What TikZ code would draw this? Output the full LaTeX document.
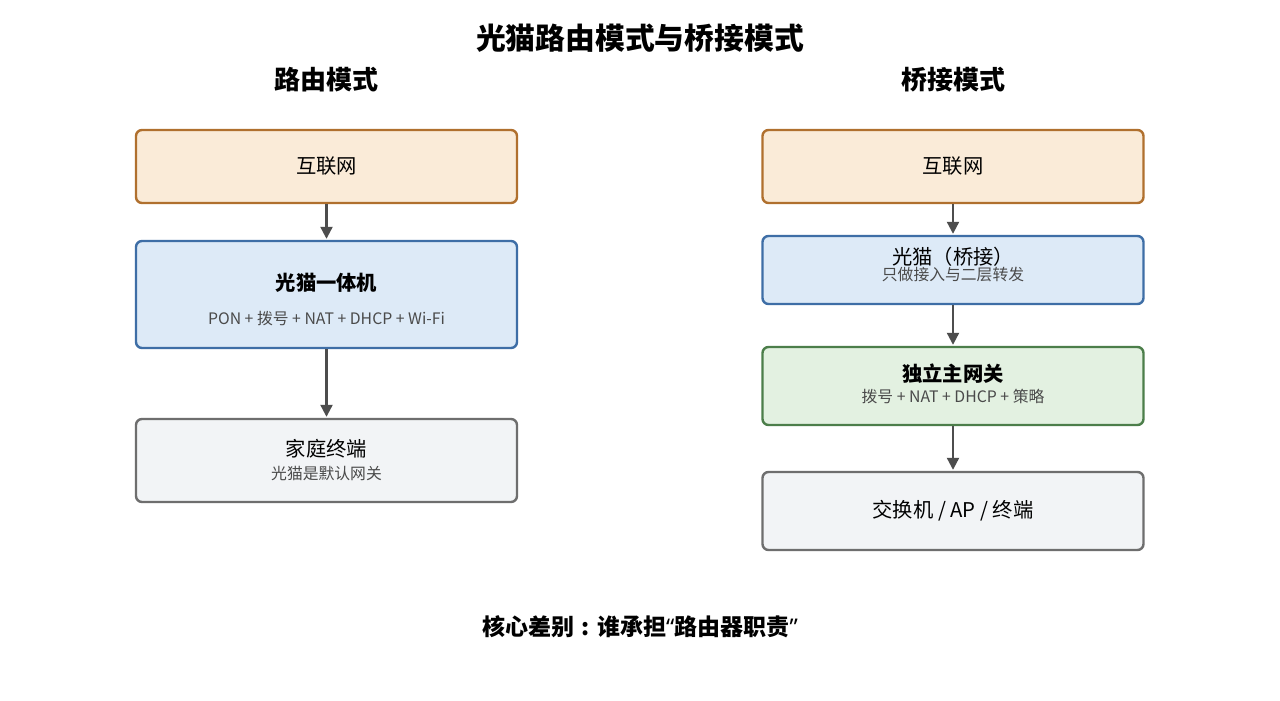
\documentclass[tikz,border=0pt]{standalone}
\usepackage{fontspec}
\setmainfont{Noto Sans CJK SC}
\newfontfamily\latinfont{Noto Sans}
\usetikzlibrary{arrows.meta}
\definecolor{orfill}{HTML}{FAEBD8}
\definecolor{ordraw}{HTML}{B0702E}
\definecolor{blfill}{HTML}{DDEAF7}
\definecolor{bldraw}{HTML}{3E6EA6}
\definecolor{grfill}{HTML}{E3F1E1}
\definecolor{grdraw}{HTML}{4C7E4A}
\definecolor{gyfill}{HTML}{F2F4F6}
\definecolor{gydraw}{HTML}{6E6E6E}
\definecolor{subtext}{HTML}{4A4A4A}
\definecolor{arrowc}{HTML}{4D4D4D}
\tikzset{
  boxbase/.style={rectangle, rounded corners=6pt, line width=2.4pt, minimum width=381pt, inner sep=0pt},
  orbox/.style={boxbase, fill=orfill, draw=ordraw},
  blbox/.style={boxbase, fill=blfill, draw=bldraw},
  grbox/.style={boxbase, fill=grfill, draw=grdraw},
  gybox/.style={boxbase, fill=gyfill, draw=gydraw},
  maintxt/.style={font=\fontsize{20.3}{24}\selectfont, text=black, inner sep=0pt},
  boldtxt/.style={font=\fontsize{20.3}{24}\selectfont\bfseries, text=black, inner sep=0pt},
  subtxt/.style={font=\fontsize{15.8}{19}\selectfont, text=subtext, inner sep=0pt},
  flow/.style={draw=arrowc, line width=2.2pt, -{Triangle[length=12pt,width=12pt]}, shorten >=1pt},
}
\begin{document}
\begin{tikzpicture}[x=1pt,y=-1pt]
\useasboundingbox[fill=white] (0,0) rectangle (1280,701);

% titles
\node[font=\fontsize{29.8}{34}\selectfont\bfseries, inner sep=0pt] (title) at (640,38) {光猫路由模式与桥接模式};
\node[font=\fontsize{26}{30}\selectfont\bfseries, inner sep=0pt] (ltitle) at (326.5,80) {路由模式};
\node[font=\fontsize{26}{30}\selectfont\bfseries, inner sep=0pt] (rtitle) at (953,80) {桥接模式};

% left column
\node[orbox, minimum height=73pt] (linet) at (326.5,166.5) {};
\node[maintxt] (linett) at (326.5,166) {互联网};

\node[blbox, minimum height=107pt] (lmodem) at (326.5,294.5) {};
\node[boldtxt] (lmodemt) at (326.5,283) {光猫一体机};
\node[subtxt] (lmodems) at (326.5,319) {PON + 拨号 + NAT + DHCP + Wi-Fi};

\node[gybox, minimum height=83pt] (lhome) at (326.5,460.5) {};
\node[maintxt] (lhomet) at (326.5,449) {家庭终端};
\node[subtxt] (lhomes) at (326.5,473) {光猫是默认网关};

\draw[flow] (linet.south) -- (lmodem.north);
\draw[flow] (lmodem.south) -- (lhome.north);

% right column
\node[orbox, minimum height=73pt] (rinet) at (953,166.5) {};
\node[maintxt] (rinett) at (953,166) {互联网};

\node[blbox, minimum height=68pt] (rmodem) at (953,270) {};
\node[maintxt] (rmodemt) at (953,257) {光猫（桥接）};
\node[subtxt] (rmodems) at (953,275) {只做接入与二层转发};

\node[grbox, minimum height=78pt] (rgw) at (953,386) {};
\node[boldtxt] (rgwt) at (953,374) {独立主网关};
\node[subtxt] (rgws) at (953,396) {拨号 + NAT + DHCP + 策略};

\node[gybox, minimum height=78pt] (rsw) at (953,511) {};
\node[maintxt] (rswt) at (953,511) {交换机 / AP / 终端};

\draw[flow] (rinet.south) -- (rmodem.north);
\draw[flow] (rmodem.south) -- (rgw.north);
\draw[flow] (rgw.south) -- (rsw.north);

% bottom note
\node[font=\fontsize{23}{27}\selectfont\bfseries, inner sep=0pt] (note) at (640,627) {核心差别\makebox[1em][c]{:}谁承担{\latinfont\bfseries “}路由器职责{\latinfont\bfseries ”}};
\end{tikzpicture}
\end{document}
